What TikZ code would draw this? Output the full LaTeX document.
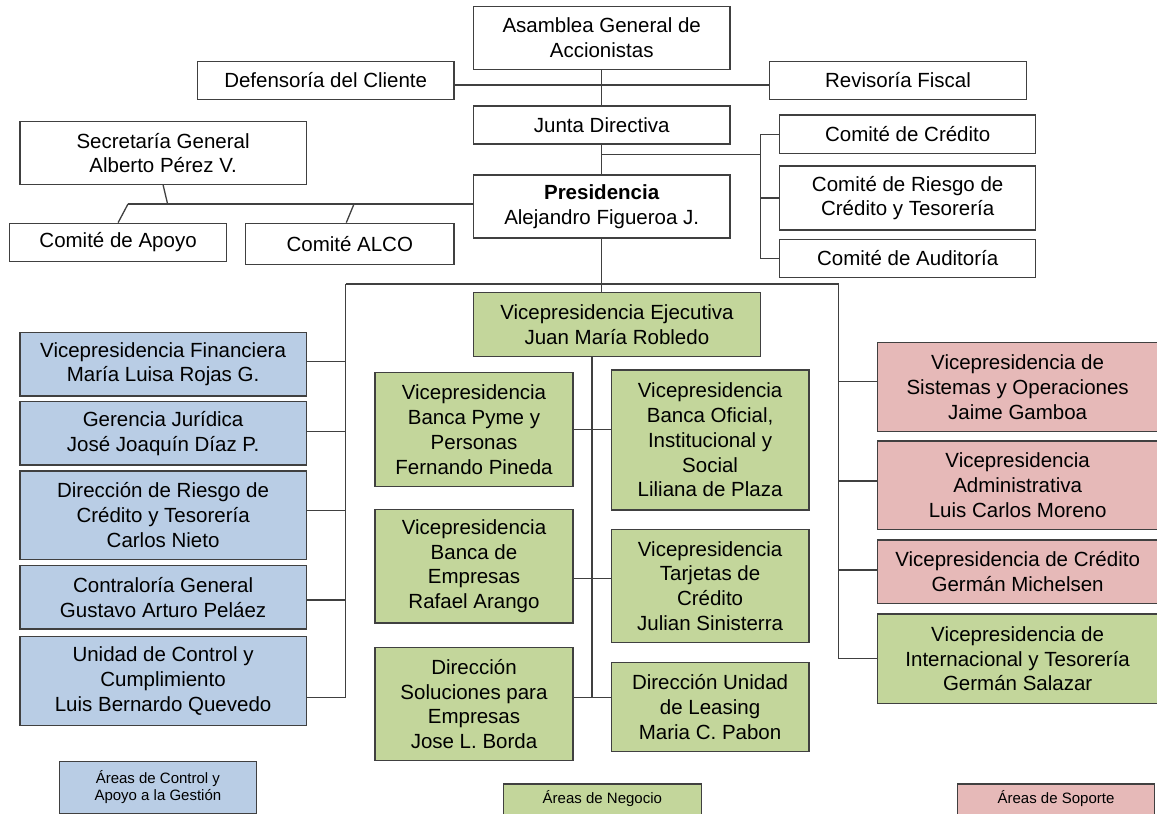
\documentclass[tikz,border=0pt]{standalone}
\usepackage{fontspec}
\setmainfont{Liberation Sans}
\definecolor{cblue}{HTML}{B9CDE5}
\definecolor{cgreen}{HTML}{C3D69B}
\definecolor{cpink}{HTML}{E6B9B8}
\definecolor{cline}{HTML}{404040}
\begin{document}
\begin{tikzpicture}[x=1pt,y=-1pt,
  font=\fontsize{20.5}{24.8}\selectfont,
  every node/.style={inner sep=0pt,align=center},
  orgbox/.style={draw=cline,line width=1.3pt,fill=white},
  bluebox/.style={orgbox,fill=cblue},
  greenbox/.style={orgbox,fill=cgreen},
  pinkbox/.style={orgbox,fill=cpink},
  legendtext/.style={font=\fontsize{15}{17}\selectfont},
  conn/.style={draw=cline,line width=1.3pt}]
\useasboundingbox (0,0) rectangle (1157,814);
\fill[white] (0,0) rectangle (1157,814);

% top level
\node[orgbox,minimum width=256.6,minimum height=62.6] (asamblea) at (601.7,38) {Asamblea General de\\Accionistas};
\node[orgbox,minimum width=256.4,minimum height=37.6] (defensoria) at (325.7,80.5) {Defensoría del Cliente};
\node[orgbox,minimum width=257,minimum height=37.6] (revisoria) at (898,80.5) {Revisoría Fiscal};
\node[orgbox,minimum width=256.6,minimum height=38] (junta) at (601.7,125) {Junta Directiva};
\node[orgbox,minimum width=286.2,minimum height=62.6] (secretaria) at (163.1,153) {Secretaría General\\Alberto Pérez V.};
\node[orgbox,minimum width=256.6,minimum height=63] (presidencia) at (601.7,206.5) {\textbf{Presidencia}\\Alejandro Figueroa J.};
\node[orgbox,minimum width=217,minimum height=38.4] (apoyo) at (118.1,242.5) {Comité de Apoyo};
\node[orgbox,minimum width=208.2,minimum height=41] (alco) at (349.8,243.8) {Comité ALCO};
\node[orgbox,minimum width=255.8,minimum height=38.3] (credito) at (907.7,134.2) {Comité de Crédito};
\node[orgbox,minimum width=255.8,minimum height=64] (riesgo) at (907.7,198) {Comité de Riesgo de\\Crédito y Tesorería};
\node[orgbox,minimum width=255.8,minimum height=38] (auditoria) at (907.7,258.3) {Comité de Auditoría};

% executive
\node[greenbox,minimum width=286.9,minimum height=64] (vpejec) at (616.9,324.7) {Vicepresidencia Ejecutiva\\Juan María Robledo};

% blue column
\node[bluebox,minimum width=286.2,minimum height=63.7] (vpfin) at (163.1,364.2) {Vicepresidencia Financiera\\María Luisa Rojas G.};
\node[bluebox,minimum width=286.2,minimum height=63.3] (juridica) at (163.1,433.3) {Gerencia Jurídica\\José Joaquín Díaz P.};
\node[bluebox,minimum width=286.2,minimum height=88.3] (dirriesgo) at (163.1,515.2) {Dirección de Riesgo de\\Crédito y Tesorería\\Carlos Nieto};
\node[bluebox,minimum width=286.2,minimum height=63.3] (contraloria) at (163.1,597.3) {Contraloría General\\Gustavo Arturo Peláez};
\node[bluebox,minimum width=286.2,minimum height=89] (unidad) at (163.1,681.2) {Unidad de Control y\\Cumplimiento\\Luis Bernardo Quevedo};

% green business
\node[greenbox,minimum width=198,minimum height=114] (pyme) at (474,429.7) {Vicepresidencia\\Banca Pyme y\\Personas\\Fernando Pineda};
\node[greenbox,minimum width=197.6,minimum height=140] (oficial) at (710.1,440) {Vicepresidencia\\Banca Oficial,\\Institucional y\\Social\\Liliana de Plaza};
\node[greenbox,minimum width=198,minimum height=113.7] (empresas) at (474,566.2) {Vicepresidencia\\Banca de\\Empresas\\Rafael Arango};
\node[greenbox,minimum width=197.6,minimum height=113.4] (tarjetas) at (710.1,586) {Vicepresidencia\\Tarjetas de\\Crédito\\Julian Sinisterra};
\node[greenbox,minimum width=198,minimum height=113.4] (soluciones) at (474,704) {Dirección\\Soluciones para\\Empresas\\Jose L. Borda};
\node[greenbox,minimum width=197.6,minimum height=89] (leasing) at (710.1,707.2) {Dirección Unidad\\de Leasing\\Maria C. Pabon};

% right column
\node[pinkbox,minimum width=280.7,minimum height=89] (sistemas) at (1017.65,387.2) {Vicepresidencia de\\Sistemas y Operaciones\\Jaime Gamboa};
\node[pinkbox,minimum width=280.7,minimum height=88.3] (admin) at (1017.65,485.2) {Vicepresidencia\\Administrativa\\Luis Carlos Moreno};
\node[pinkbox,minimum width=280.7,minimum height=63.3] (vpcredito) at (1017.65,571.7) {Vicepresidencia de Crédito\\Germán Michelsen};
\node[greenbox,minimum width=280.7,minimum height=89.3] (internacional) at (1017.65,658.7) {Vicepresidencia de\\Internacional y Tesorería\\Germán Salazar};

% legends
\node[bluebox,legendtext,minimum width=197.1,minimum height=51.6] (legcontrol) at (157.9,787.5) {Áreas de Control y\\Apoyo a la Gestión};
\node[greenbox,legendtext,minimum width=198.1,minimum height=34,text height=11pt,text depth=6.2pt] (legnegocio) at (602.35,801) {Áreas de Negocio};
\node[pinkbox,legendtext,minimum width=197.6,minimum height=34,text height=11pt,text depth=6.2pt] (legsoporte) at (1056,801) {Áreas de Soporte};

% ---- connectors ----
\begin{scope}[on background layer/.style={}]
\end{scope}
\draw[conn] (asamblea.south) -- (junta.north);
\coordinate (dr) at ([yshift=-4.5]defensoria.east);
\draw[conn] (dr) -- (dr -| revisoria.west);
\draw[conn] (junta.south) -- (presidencia.north);

% committees bracket
\coordinate (jc) at (601.7,154.3);
\coordinate (brk) at (760.3,0);
\draw[conn] (jc) -- (brk |- jc);
\draw[conn] (brk |- credito.west) -- (brk |- auditoria.west);
\draw[conn] (brk |- credito.west) -- (credito.west);
\draw[conn] (brk |- riesgo.west) -- (riesgo.west);
\draw[conn] (brk |- auditoria.west) -- (auditoria.west);

% secretaria group
\coordinate (hL) at (128,204);
\coordinate (hS) at (167.6,204);
\coordinate (hA) at (354,204);
\draw[conn] (hL) -- (presidencia.west |- hL);
\draw[conn] (secretaria.south) -- (hS);
\draw[conn] (hL) -- (apoyo.north);
\draw[conn] (hA) -- ([xshift=-3.5pt]alco.north);

% main bus
\coordinate (busL) at (345.6,284);
\coordinate (busR) at (838.7,284);
\draw[conn] (busL) -- (busR);
\draw[conn] (presidencia.south) -- (presidencia.south |- vpejec.north);

% left bus
\coordinate (tf) at ([yshift=2.5pt]vpfin.east);
\coordinate (tj) at ([yshift=1.6pt]juridica.east);
\coordinate (td) at ([yshift=4.5pt]dirriesgo.east);
\coordinate (tc) at ([yshift=-2.7pt]contraloria.east);
\coordinate (tu) at ([yshift=-16.1pt]unidad.east);
\draw[conn] (busL) -- (busL |- tu);
\foreach \t in {tf,tj,td,tc,tu} \draw[conn] (\t) -- (busL |- \t);

% central
\coordinate (cv) at (592,0);
\coordinate (tp) at (pyme.east);
\coordinate (te) at ([yshift=-12.1pt]empresas.east);
\coordinate (ts) at ([yshift=6.7pt]soluciones.east);
\draw[conn] (cv |- vpejec.south) -- (cv |- ts);
\draw[conn] (tp) -- (tp -| oficial.west);
\draw[conn] (te) -- (te -| tarjetas.west);
\draw[conn] (ts) -- (ts -| leasing.west);

% right bus
\coordinate (rs) at ([yshift=5.5pt]sistemas.west);
\coordinate (ra) at ([yshift=4.2pt]admin.west);
\coordinate (rc) at ([yshift=1.7pt]vpcredito.west);
\coordinate (ri) at (internacional.west);
\draw[conn] (busR) -- (busR |- ri);
\foreach \t in {rs,ra,rc,ri} \draw[conn] (\t) -- (busR |- \t);
\end{tikzpicture}
\end{document}
